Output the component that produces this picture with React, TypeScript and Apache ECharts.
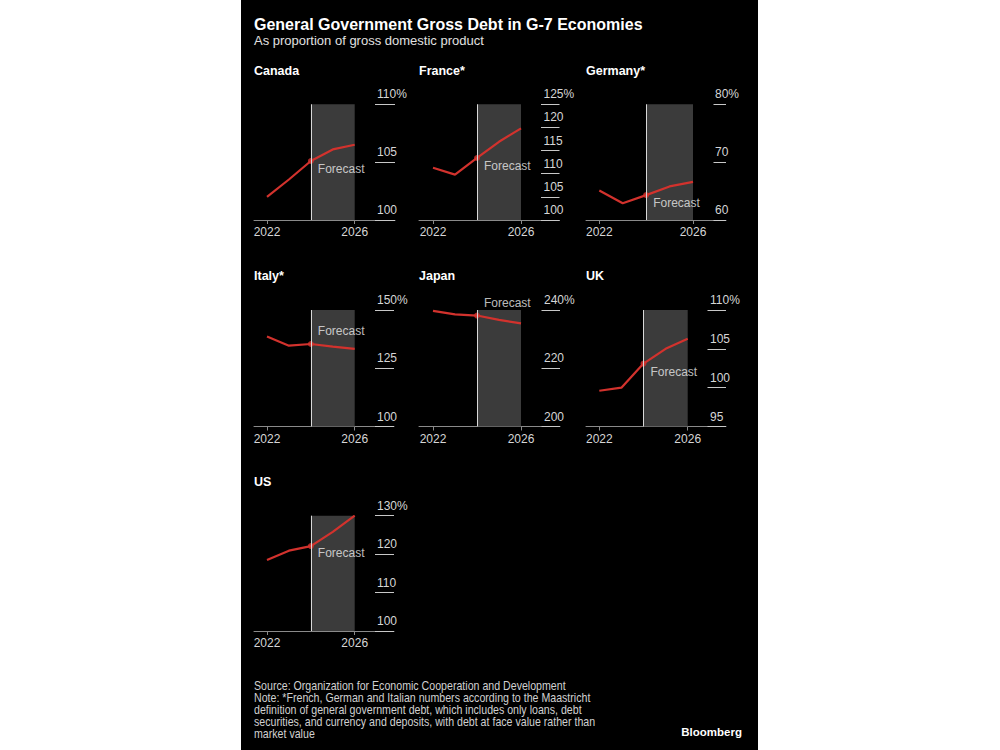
import React, { useEffect, useRef } from 'react';
import * as echarts from 'echarts';

// ---------- data ----------
const years = [2022, 2023, 2024, 2025, 2026];
const countries = ['Canada', 'France*', 'Germany*', 'Italy*', 'Japan', 'UK', 'US'];
const canada = [102.0, 103.5, 105.1, 106.1, 106.5];
const france = [111.3, 109.8, 113.4, 116.9, 119.8];
const germany = [65.1, 62.9, 64.3, 65.8, 66.6];
const italy = [138.6, 134.7, 135.4, 134.3, 133.3];
const japan = [239.7, 238.5, 238.1, 236.6, 235.4];
const uk = [99.6, 100.0, 103.1, 105.0, 106.3];
const us = [118.5, 120.9, 122.1, 125.8, 130.0];
const seriesValues = [canada, france, germany, italy, japan, uk, us];
const yMins = [100, 100, 60, 100, 200, 95, 100];
const yMaxs = [110, 125, 80, 150, 240, 110, 130];
const yIntervals = [5, 5, 10, 25, 20, 5, 10];
const xTickLabels = [2022, 2026];
const forecastStart = 2024;
const forecastEnd = 2026;
const forecastLabel = 'Forecast';

const titleText = 'General Government Gross Debt in G-7 Economies';
const subtitleText = 'As proportion of gross domestic product';
const footerText =
  'Source: Organization for Economic Cooperation and Development\n' +
  'Note: *French, German and Italian numbers according to the Maastricht\n' +
  'definition of general government debt, which includes only loans, debt\n' +
  'securities, and currency and deposits, with debt at face value rather than\n' +
  'market value';
const brandText = 'Bloomberg';

// ---------- layout ----------
const rowTop = [104.3, 310, 515.7];
const rowBottom = [220, 426.5, 631];
const rowTitleY = [70.7, 276.4, 482];
const panelLayout = [
  { row: 0, left: 254, right: 395, x0: 267, x1: 354.7, tick: 20, labelMargin: 18, fc: [7, 8] },
  { row: 0, left: 419, right: 559.5, x0: 433, x1: 521, tick: 18.5, labelMargin: 16, fc: [7, 8] },
  { row: 0, left: 586, right: 726, x0: 599.3, x1: 693, tick: 12.5, labelMargin: 11, fc: [7, 8] },
  { row: 1, left: 254, right: 394, x0: 267, x1: 354.7, tick: 19, labelMargin: 17, fc: [7, -13] },
  { row: 1, left: 419, right: 560, x0: 433, x1: 521, tick: 18.5, labelMargin: 16, fc: [7, -13] },
  { row: 1, left: 586, right: 726, x0: 599.3, x1: 687.7, tick: 18.5, labelMargin: 16, fc: [7, 8] },
  { row: 2, left: 254, right: 394, x0: 267, x1: 354.7, tick: 19, labelMargin: 17, fc: [7, 7] },
];

const NARROW = "'Liberation Sans Narrow', 'Liberation Sans', sans-serif";
const BOLD = "'Liberation Sans', Arial, sans-serif";
const RED = '#d2322d';

function buildOption() {
  const grid: any[] = [];
  const xAxis: any[] = [];
  const yAxis: any[] = [];
  const series: any[] = [];
  const graphic: any[] = [];

  panelLayout.forEach((p, i) => {
    const top = rowTop[p.row];
    const bottom = rowBottom[p.row];
    const ppy = (p.x1 - p.x0) / (years[years.length - 1] - years[0]);
    const xMin = years[0] - (p.x0 - p.left) / ppy;
    const xMax = years[years.length - 1] + (p.right - p.x1) / ppy;
    grid.push({ left: p.left, top, width: p.right - p.left, height: bottom - top, containLabel: false });
    xAxis.push({
      type: 'value',
      gridIndex: i,
      min: xMin,
      max: xMax,
      splitLine: { show: false },
      axisLine: { show: true, lineStyle: { color: '#8a8a8a', width: 1 } },
      axisTick: { show: true, customValues: xTickLabels, length: 4, lineStyle: { color: '#8a8a8a' } },
      axisLabel: {
        show: true,
        customValues: xTickLabels,
        formatter: (v: number) => String(v),
        color: '#d6d6d6',
        fontFamily: NARROW,
        fontSize: 12,
        margin: 6,
      },
    });
    const yMax = yMaxs[i];
    yAxis.push({
      type: 'value',
      gridIndex: i,
      position: 'right',
      min: yMins[i],
      max: yMax,
      interval: yIntervals[i],
      splitLine: { show: false },
      axisLine: { show: false },
      axisTick: { show: true, inside: true, length: p.tick, lineStyle: { color: '#c8c8c8', width: 1 } },
      axisLabel: {
        show: true,
        inside: true,
        margin: p.labelMargin,
        align: 'left',
        verticalAlign: 'bottom',
        padding: [0, 0, 4, 0],
        color: '#d6d6d6',
        fontFamily: NARROW,
        fontSize: 12,
        formatter: (v: number) => (v === yMax ? v + '%' : String(v)),
      },
    });
    // forecast shading + divider
    series.push({
      type: 'line',
      xAxisIndex: i,
      yAxisIndex: i,
      data: [],
      z: 1,
      silent: true,
      markArea: {
        silent: true,
        itemStyle: { color: '#3b3b3b' },
        label: { show: false },
        data: [[{ xAxis: forecastStart }, { xAxis: forecastEnd }]],
      },
      markLine: {
        silent: true,
        symbol: 'none',
        label: { show: false },
        lineStyle: { color: '#d8d8d8', width: 1, type: 'solid' },
        data: [{ xAxis: forecastStart }],
      },
    });
    series.push({
      type: 'line',
      xAxisIndex: i,
      yAxisIndex: i,
      z: 3,
      symbol: 'none',
      lineStyle: { color: RED, width: 2.2 },
      data: years.map((y, k) => [y, seriesValues[i][k]]),
    });
    const fIdx = years.indexOf(forecastStart);
    series.push({
      type: 'scatter',
      xAxisIndex: i,
      yAxisIndex: i,
      z: 4,
      symbol: 'circle',
      symbolSize: 6,
      itemStyle: { color: RED },
      label: {
        show: true,
        position: 'inside',
        align: 'left',
        verticalAlign: 'middle',
        offset: p.fc,
        formatter: () => forecastLabel,
        color: '#ececec',
        fontFamily: NARROW,
        fontSize: 12,
      },
      data: [[forecastStart, seriesValues[i][fIdx]]],
    });
    graphic.push({
      type: 'text',
      x: p.left,
      y: rowTitleY[p.row],
      style: {
        text: countries[i],
        fill: '#ffffff',
        font: `bold 12.5px ${BOLD}`,
        verticalAlign: 'middle',
      },
    });
  });

  graphic.push(
    {
      type: 'text',
      x: 254,
      y: 24,
      style: { text: titleText, fill: '#ffffff', font: `bold 16px ${BOLD}`, verticalAlign: 'middle' },
    },
    {
      type: 'text',
      x: 254,
      y: 40.7,
      style: { text: subtitleText, fill: '#e0e0e0', font: `13px ${NARROW}`, verticalAlign: 'middle' },
    },
    {
      type: 'text',
      x: 254,
      y: 680,
      scaleX: 0.885,
      style: { text: footerText, fill: '#d0d0d0', font: `12px ${NARROW}`, lineHeight: 12, verticalAlign: 'top' },
    },
    {
      type: 'text',
      x: 742,
      y: 732.3,
      style: { text: brandText, fill: '#ffffff', font: `bold 11.5px ${BOLD}`, align: 'right', verticalAlign: 'middle' },
    }
  );

  return { animation: false, grid, xAxis, yAxis, series, graphic };
}

export default function App() {
  const ref = useRef<HTMLDivElement>(null);
  useEffect(() => {
    if (!ref.current) return;
    const chart = echarts.init(ref.current, undefined, { renderer: 'svg' });
    chart.setOption(buildOption() as any);
    return () => chart.dispose();
  }, []);
  return (
    <div
      ref={ref}
      style={{
        position: 'fixed',
        left: 0,
        top: 0,
        width: 1000,
        height: 750,
        background: 'linear-gradient(to right, #fff 241px, #000 241px, #000 758px, #fff 758px)',
      }}
    />
  );
}
